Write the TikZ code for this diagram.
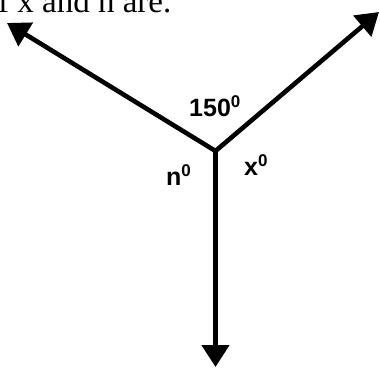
\documentclass[tikz,border=0pt]{standalone}
\usepackage{fontspec}
\setmainfont{Liberation Serif}
\newfontfamily\lsans{Liberation Sans}
\usetikzlibrary{arrows.meta}
\newcommand\supz{\raisebox{9pt}{\fontsize{17}{20}\selectfont 0}}
\begin{document}
\begin{tikzpicture}[x=1pt,y=1pt,
  tipstyle/.style={line width=4.6pt, line join=miter},
  ray/.style={tipstyle, -{Triangle[length=22pt,width=27pt]}},
  biray/.style={tipstyle, {Triangle[length=22pt,width=27pt]}-{Triangle[length=22pt,width=27pt]}},
  lbl/.style={inner sep=0pt, anchor=base west, font=\lsans\bfseries\fontsize{25}{28}\selectfont}]
\useasboundingbox (0,0) rectangle (380,-367);
\clip (0,0) rectangle (380,-367);
\fill[white] (0,0) rectangle (380,-367);
\coordinate (V) at (215.5,-151);
\coordinate (L) at (7,-23);
\coordinate (R) at (379,-12);
\coordinate (B) at (215.5,-367);
\draw[biray] (L) -- (V) -- (R);
\draw[ray] (V) -- (B);
\node[lbl] (a150) at (189,-116) {150\supz};
\node[lbl] (an) at (166,-185) {n\supz};
\node[lbl] (ax) at (244,-175) {x\supz};
\node[inner sep=0pt, anchor=base west, font=\fontsize{33}{38}\selectfont] (top) at (-2,-12) {f x and n are.};
\end{tikzpicture}
\end{document}
